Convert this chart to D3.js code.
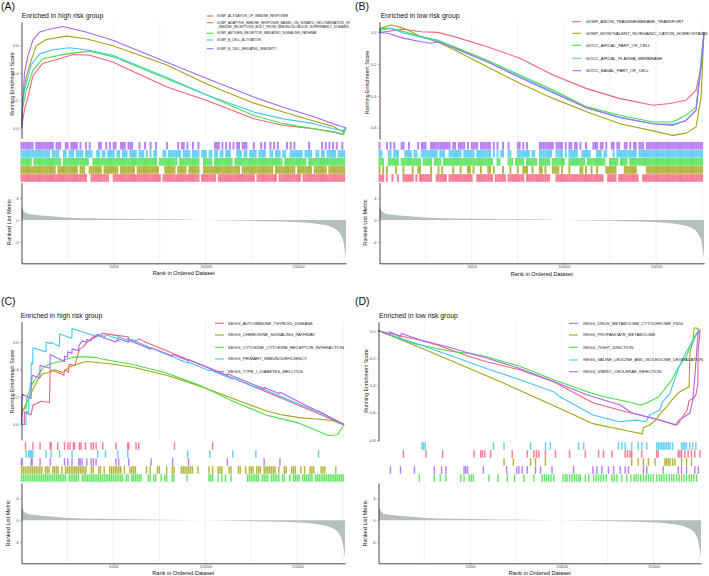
<!DOCTYPE html>
<html><head><meta charset="utf-8">
<script src="https://cdn.jsdelivr.net/npm/d3@7"></script>
<style>body{margin:0;background:#fff}svg{display:block;font-family:"Liberation Sans",Arial,Helvetica,sans-serif}</style>
</head><body>
<script>
// ---------------- DATA ----------------
const rankMax = 17600;
const HIT_UNIT = 100; // rug hit positions are given in hundreds of ranks
const gridRanks = [2500, 5000, 7500, 10000, 12500, 15000, 17500];
const xTicks = [5000, 10000, 15000];
const metricRanks  = [0, 100, 250, 600, 1500, 2400, 4200, 6000, 7900, 9800, 11500, 13300, 15100, 16000, 16900, 17300, 17470, 17600];
const metricValues = [2.6, 1.8, 1.3, 1.0, 0.73, 0.48, 0.3, 0.2, 0.12, 0.0, -0.1, -0.24, -0.4, -0.7, -1.4, -2.6, -4.1, -6.9];
const metricDomain = [-7.9, 6.85];
const metricTicks = [-4, 0, 4];
const setColors = ["#F5607D", "#A3A516", "#46DF46", "#44C6F3", "#AA66F2"];

const panelLetters = ["(A)", "(B)", "(C)", "(D)"];
const titles = ["Enriched in high risk group", "Enriched in low risk group", "Enriched in high risk group", "Enriched in low risk group"];

const legendA = ["GOBP_ACTIVATION_OF_IMMUNE_RESPONSE",
  "GOBP_ADAPTIVE_IMMUNE_RESPONSE_BASED_ON_SOMATIC_RECOMBINATION_OF\n_IMMUNE_RECEPTORS_BUILT_FROM_IMMUNOGLOBULIN_SUPERFAMILY_DOMAINS",
  "GOBP_ANTIGEN_RECEPTOR_MEDIATED_SIGNALING_PATHWAY", "GOBP_B_CELL_ACTIVATION", "GOBP_B_CELL_MEDIATED_IMMUNITY"];
const legendB = ["GOBP_ANION_TRANSMEMBRANE_TRANSPORT", "GOBP_MONOVALENT_INORGANIC_CATION_HOMEOSTASIS",
  "GOCC_APICAL_PART_OF_CELL", "GOCC_APICAL_PLASMA_MEMBRANE", "GOCC_BASAL_PART_OF_CELL"];
const legendC = ["KEGG_AUTOIMMUNE_THYROID_DISEASE", "KEGG_CHEMOKINE_SIGNALING_PATHWAY",
  "KEGG_CYTOKINE_CYTOKINE_RECEPTOR_INTERACTION", "KEGG_PRIMARY_IMMUNODEFICIENCY", "KEGG_TYPE_I_DIABETES_MELLITUS"];
const legendD = ["KEGG_DRUG_METABOLISM_CYTOCHROME_P450", "KEGG_PROPANOATE_METABOLISM",
  "KEGG_TIGHT_JUNCTION", "KEGG_VALINE_LEUCINE_AND_ISOLEUCINE_DEGRADATION", "KEGG_VIBRIO_CHOLERAE_INFECTION"];

const esTicksA = [0, 0.2, 0.4, 0.6];
const esTicksB = [-0.6, -0.4, -0.2, 0.0];
const esTicksC = [0, 0.2, 0.4, 0.6];
const esTicksD = [-0.8, -0.6, -0.4, -0.2, 0.0];
const esDomainA = [-0.077, 0.773];
const esDomainB = [-0.671, 0.067];
const esDomainC = [-0.113, 0.75];
const esDomainD = [-0.807, 0.066];

// running enrichment scores [rank, ES], series order = legend order
const esA = [
  [[0,0],[160,0.13],[340,0.22],[620,0.38],[1150,0.47],[2050,0.505],[2800,0.535],[3700,0.53],[4950,0.48],[7850,0.30],[10050,0.20],[12600,0.066],[14200,0.017],[15850,-0.007],[16900,-0.03],[17450,-0.045],[17600,0]],
  [[0,0],[70,0.20],[250,0.37],[520,0.49],[800,0.60],[1350,0.645],[2450,0.67],[3500,0.65],[4950,0.60],[7850,0.46],[10050,0.32],[12600,0.18],[14200,0.115],[15850,0.05],[16900,0.01],[17450,-0.03],[17600,0]],
  [[0,0],[70,0.15],[250,0.27],[620,0.42],[1150,0.505],[2450,0.54],[3700,0.56],[4950,0.52],[7850,0.36],[10050,0.24],[12600,0.09],[14200,0.03],[15850,-0.007],[16900,-0.03],[17450,-0.05],[17600,0]],
  [[0,0],[70,0.22],[250,0.32],[520,0.46],[980,0.54],[1700,0.57],[2600,0.585],[3500,0.57],[4950,0.53],[7850,0.37],[10050,0.24],[12600,0.115],[14200,0.065],[15850,0.03],[16900,-0.007],[17450,-0.02],[17600,0]],
  [[0,0],[160,0.40],[340,0.52],[620,0.64],[980,0.70],[1520,0.72],[2250,0.74],[3500,0.70],[4950,0.64],[7850,0.48],[10050,0.36],[12600,0.225],[14200,0.15],[15850,0.08],[16900,0.03],[17450,0.005],[17600,0]]
];
const esB = [
  [[0,0],[270,0.004],[1350,0.02],[2250,0.004],[3150,0],[4050,-0.027],[5840,-0.09],[7640,-0.164],[9440,-0.27],[11240,-0.354],[13040,-0.417],[14830,-0.459],[15730,-0.448],[16630,-0.427],[17170,-0.364],[17440,-0.217],[17600,0]],
  [[0,0],[50,0.025],[630,0.046],[1350,0.025],[2250,-0.027],[3150,-0.06],[4050,-0.11],[5840,-0.217],[7640,-0.322],[9440,-0.417],[11240,-0.50],[13040,-0.575],[14830,-0.62],[15910,-0.648],[16630,-0.634],[17170,-0.596],[17440,-0.406],[17600,0]],
  [[0,0],[50,0.025],[630,0.025],[1350,0.004],[2250,-0.027],[3150,-0.048],[4050,-0.09],[5840,-0.175],[7640,-0.27],[9440,-0.364],[11240,-0.469],[13040,-0.522],[14830,-0.564],[15910,-0.564],[16630,-0.522],[17170,-0.469],[17440,-0.217],[17600,0]],
  [[0,0],[50,0.015],[630,0.025],[1350,-0.006],[2250,-0.03],[3150,-0.053],[4050,-0.10],[5840,-0.185],[7640,-0.28],[9440,-0.375],[11240,-0.474],[13040,-0.533],[14830,-0.575],[15910,-0.579],[16630,-0.554],[17170,-0.49],[17440,-0.175],[17600,0]],
  [[0,0],[450,-0.006],[1350,-0.038],[2250,-0.059],[2790,-0.069],[3150,-0.059],[4050,-0.097],[5840,-0.185],[7640,-0.286],[9440,-0.381],[11240,-0.476],[13040,-0.537],[14830,-0.575],[15910,-0.585],[16630,-0.554],[17170,-0.49],[17440,-0.217],[17600,0]]
];
const esC = [
  [[0,0],[150,0],[160,0.09],[520,0.07],[620,0.14],[1070,0.17],[1520,0.16],[1560,0.40],[2000,0.38],[2300,0.36],[2350,0.40],[2550,0.38],[2600,0.44],[2900,0.43],[3150,0.55],[3400,0.57],[3550,0.60],[3800,0.62],[4050,0.64],[4450,0.665],[5150,0.65],[5800,0.64],[5850,0.62],[6250,0.61],[6400,0.625],[6600,0.61],[14000,0.20],[17550,0]],
  [[0,0.05],[70,0.10],[250,0.15],[600,0.25],[900,0.33],[1150,0.37],[1500,0.38],[1800,0.40],[2250,0.38],[2600,0.42],[3000,0.44],[3500,0.46],[4250,0.45],[5000,0.44],[6000,0.42],[7900,0.36],[9700,0.28],[11500,0.19],[13300,0.10],[14200,0.07],[15100,0.05],[16000,0.04],[16900,0.03],[17470,0]],
  [[0,0.10],[250,0.12],[300,0.20],[600,0.30],[1000,0.38],[1200,0.42],[1500,0.44],[2100,0.46],[2500,0.48],[3000,0.495],[4000,0.49],[4300,0.48],[6000,0.44],[7800,0.38],[9800,0.28],[11500,0.17],[13300,0.07],[15100,0.01],[16700,-0.08],[17200,-0.075],[17550,0]],
  [[0,0],[240,0],[250,0.10],[390,0.08],[400,0.20],[460,0.20],[470,0.30],[520,0.30],[530,0.45],[610,0.44],[620,0.56],[1330,0.53],[1340,0.60],[1600,0.59],[1610,0.60],[2060,0.57],[2070,0.66],[2740,0.63],[2750,0.70],[4140,0.64],[4150,0.66],[4560,0.64],[4570,0.655],[5230,0.625],[5240,0.64],[5770,0.615],[5780,0.63],[9030,0.448],[9040,0.458],[10240,0.39],[10250,0.40],[11480,0.331],[11490,0.341],[12740,0.27],[12750,0.28],[16150,0.089],[16160,0.099],[17550,0]],
  [[0,0],[10,0.12],[40,0.22],[520,0.19],[530,0.28],[580,0.36],[1000,0.34],[1010,0.43],[1550,0.41],[1560,0.51],[2330,0.46],[2340,0.50],[2510,0.49],[2520,0.53],[2740,0.52],[2750,0.55],[3110,0.54],[3120,0.57],[3190,0.59],[3300,0.61],[3540,0.60],[3550,0.62],[3780,0.61],[3790,0.63],[3900,0.63],[3910,0.645],[4050,0.64],[4060,0.655],[5130,0.60],[5140,0.615],[5280,0.61],[5290,0.625],[5820,0.60],[5830,0.615],[7040,0.55],[7050,0.56],[8210,0.50],[8220,0.51],[9080,0.465],[9090,0.475],[11190,0.36],[11200,0.37],[13190,0.26],[13200,0.27],[14050,0.225],[14060,0.235],[17550,0]]
];
const esD = [
  [[0,0],[1400,-0.044],[2300,-0.07],[3200,-0.105],[5000,-0.19],[5900,-0.227],[7750,-0.288],[9550,-0.373],[11700,-0.527],[13500,-0.593],[15000,-0.64],[16300,-0.69],[16600,-0.63],[16850,-0.58],[16950,-0.51],[17150,-0.50],[17320,-0.47],[17420,-0.40],[17450,-0.14],[17550,0]],
  [[0,0],[2300,-0.124],[6850,-0.385],[9600,-0.55],[11700,-0.68],[13500,-0.73],[14400,-0.755],[14450,-0.71],[14800,-0.69],[15150,-0.65],[15350,-0.61],[15700,-0.56],[16050,-0.50],[16400,-0.45],[16950,-0.41],[17000,-0.154],[17180,-0.07],[17220,0.02],[17360,0.02],[17550,0]],
  [[0,0],[1900,-0.093],[3200,-0.13],[4100,-0.154],[5000,-0.166],[5900,-0.19],[7700,-0.26],[9600,-0.36],[11400,-0.446],[12200,-0.48],[13600,-0.52],[14300,-0.544],[14600,-0.53],[15300,-0.483],[16000,-0.36],[16400,-0.26],[16800,-0.19],[17100,-0.08],[17300,-0.03],[17500,0]],
  [[0,0],[2300,-0.105],[4100,-0.19],[5900,-0.276],[7750,-0.36],[9550,-0.446],[9900,-0.483],[11700,-0.617],[13150,-0.666],[14050,-0.654],[14600,-0.666],[14800,-0.617],[15350,-0.58],[15500,-0.52],[15900,-0.46],[16050,-0.40],[16450,-0.25],[16800,-0.154],[17150,-0.08],[17350,-0.03],[17550,0]],
  [[0,0],[600,-0.03],[620,-0.007],[1200,-0.044],[1250,-0.02],[2300,-0.068],[4100,-0.13],[5000,-0.166],[5900,-0.20],[7700,-0.276],[9600,-0.373],[11400,-0.47],[13200,-0.544],[13800,-0.60],[15300,-0.654],[16200,-0.69],[16400,-0.654],[16700,-0.63],[17000,-0.60],[17150,-0.51],[17250,-0.36],[17450,0]]
];

// gene-set hit positions (hundreds of ranks), series order = legend order
const hitsA = [
  [0,1,2,3,4,5,6,7,8,9,10,11,12,13,14,15,16,17,18,19,20,21,22,23,24,25,26,27,28,29,30,31,32,33,34,35,38,39,40,41,42,43,44,45,46,47,50,51,52,53,54,55,56,57,58,59,60,61,62,63,64,65,66,67,68,69,70,71,72,73,74,75,77,78,79,80,81,82,83,84,85,86,87,88,89,90,91,92,93,94,95,96,98,99,100,101,102,103,104,105,107,108,109,110,111,112,113,114,115,116,117,118,119,120,121,122,123,124,125,126,128,129,130,131,132,133,134,135,136,137,138,140,141,142,143,144,145,146,147,148,149,150,151,153,154,155,156,157,158,159,160,161,162,163,164,165,166,167,168,169,170,171,172,173,174,175],
  [0,1,2,3,4,5,6,7,8,9,10,11,12,13,14,15,16,17,18,20,21,22,23,24,25,26,27,28,29,30,32,33,34,37,38,39,40,41,42,43,45,46,47,48,49,50,51,52,54,55,56,57,58,59,60,61,63,64,65,66,67,68,69,70,71,72,73,74,78,79,80,81,82,83,85,86,87,88,89,91,92,93,94,95,96,99,100,101,102,103,104,105,106,107,108,109,110,111,112,113,114,115,116,117,118,120,121,122,123,124,125,126,127,128,129,130,131,132,133,134,135,136,138,139,140,141,142,143,144,145,146,147,148,150,151,152,153,154,155,156,157,159,160,161,162,163,164,165,167,168,169,170,171,172,173,174,175],
  [0,1,2,3,4,5,7,8,9,10,11,12,13,14,15,16,17,18,19,20,21,23,24,25,26,27,28,29,30,31,32,33,34,35,36,39,40,41,42,43,44,45,46,47,48,49,50,51,52,53,54,55,56,57,58,59,60,61,62,63,64,65,66,67,68,69,70,71,72,73,75,76,77,78,79,80,81,82,83,84,86,87,88,89,90,91,92,93,94,95,96,99,100,101,102,103,105,106,107,108,109,110,111,112,113,114,116,117,118,119,120,121,122,123,124,125,126,127,128,129,130,131,132,133,134,135,136,137,138,139,140,141,143,144,145,146,147,148,149,150,151,152,153,154,156,157,158,159,160,161,162,163,164,165,166,167,168,169,170,171,172,173,174,175],
  [0,1,2,3,4,5,6,7,8,9,10,11,12,13,14,15,17,18,19,20,23,24,26,27,28,30,31,32,33,35,36,37,38,41,42,44,45,47,48,49,50,52,53,55,56,57,59,60,61,62,64,65,66,68,70,72,73,77,78,80,81,82,83,84,85,86,88,89,90,91,93,94,95,96,98,99,100,102,103,105,106,108,109,111,112,113,117,118,119,121,122,124,125,126,127,129,130,131,132,135,136,138,139,140,142,143,146,147,148,149,150,151,152,154,155,156,157,160,161,163,164,166,167,168,169,170,172,173,174,175],
  [0,1,2,3,4,5,6,8,9,10,11,12,13,14,15,16,17,19,20,21,24,25,27,28,29,30,32,35,37,42,43,46,48,50,51,54,55,56,58,59,60,64,67,70,73,79,85,87,88,90,93,96,105,106,107,109,111,113,115,117,118,120,121,122,126,130,132,135,137,139,144,146,148,156,163,165,167,169,171,174]
];
const hitsB = [
  [0,1,2,4,7,10,13,14,15,16,17,18,20,22,23,24,25,26,27,28,31,32,33,34,35,36,38,39,40,41,42,43,44,45,46,47,48,49,50,53,54,55,56,57,58,59,60,61,63,64,65,66,67,68,70,71,72,73,74,75,76,77,78,80,81,82,83,84,85,86,87,88,89,90,91,92,96,97,98,99,100,101,102,103,104,105,106,107,108,109,110,111,112,113,114,115,116,117,118,119,120,121,124,125,126,127,128,130,131,132,133,134,135,136,137,138,139,140,143,144,145,146,147,148,149,150,151,152,153,154,155,156,157,158,159,160,161,162,163,164,165,166,167,168,169,170,171,172,173,174,175],
  [0,2,4,9,13,18,21,22,28,32,34,40,44,48,49,51,55,59,60,62,67,71,75,78,79,80,83,87,88,90,94,95,96,97,99,103,109,110,112,115,118,123,124,125,126,127,128,133,134,135,136,137,138,139,145,146,147,148,149,150,151,152,153,154,155,156,157,158,159,160,161,162,163,164,165,166,167,168,169,170,171,172,173,174,175],
  [0,1,2,5,6,7,8,9,10,12,13,14,15,16,17,18,19,20,21,22,24,25,26,27,28,30,31,32,33,35,36,37,38,39,40,41,42,43,44,45,46,47,48,49,50,51,52,53,54,55,56,57,58,59,60,61,64,65,70,71,72,74,75,76,77,78,80,81,82,83,84,85,87,88,89,90,91,92,94,95,96,97,98,99,100,103,104,105,106,107,108,109,110,111,113,114,115,116,117,118,119,120,121,122,125,126,127,128,129,131,132,133,134,136,137,138,139,140,141,142,143,144,145,146,147,148,149,150,151,152,153,154,155,156,157,158,159,160,161,162,163,164,165,166,167,168,169,170,171,172,173,174,175],
  [0,1,5,6,8,9,10,14,15,16,17,19,20,23,24,25,26,27,28,29,30,31,33,34,35,38,39,40,41,42,43,44,46,47,48,49,50,51,53,54,55,56,57,58,59,60,62,64,66,67,70,71,75,76,77,78,79,80,81,83,84,87,88,89,90,91,92,93,96,97,98,99,101,103,104,105,106,107,110,111,112,113,114,118,119,120,122,123,127,129,130,131,132,133,134,135,136,137,138,139,141,142,143,144,145,146,147,148,149,150,151,152,153,154,155,156,157,158,159,160,161,162,163,164,165,166,167,168,169,170,171,172,173,174,175],
  [0,4,6,8,12,13,16,21,23,24,25,28,29,30,31,32,33,34,35,36,37,38,40,41,43,44,45,46,48,50,51,52,53,55,56,57,58,59,60,62,64,67,70,75,76,78,80,87,88,89,90,91,92,93,94,96,97,98,99,101,103,104,106,107,109,112,116,117,118,120,121,123,126,127,129,130,133,134,136,138,139,141,142,143,145,146,147,148,149,150,151,152,153,154,155,156,157,158,159,160,161,162,163,164,165,166,167,168,169,170,171,172,173,174,175]
];
const hitsC = [
  [2.2,6.2,10.1,15.6,16.1,19.7,23.4,25.2,26.4,28.3,28.8,31.5,32.4,34.8,37.9,39.1,40.6,44.2,51.4,57.8,58.3,62.3,63.8,83.2,104],
  [0,1,2,3,4,5,6,7,8,9,10,11,13,14,15,17,18,19,20,22,24,25,26,27,28,29,30,31,32,33,34,35,38,39,42,43,45,48,49,50,51,52,53,54,56,59,60,61,62,68,70,74,75,79,82,83,87,88,89,90,91,92,93,96,102,104,107,108,109,113,114,118,119,122,124,125,126,128,129,130,132,133,134,135,136,137,138,140,143,144,147,148,149,152,154,157,158,159,163,164,165,171],
  [0,1,2,3,4,5,6,7,8,9,10,11,12,13,14,15,16,17,18,19,20,21,22,23,24,26,27,28,29,30,31,33,34,35,36,37,38,39,40,41,42,43,44,45,46,47,48,49,50,51,52,53,54,55,57,58,60,61,62,63,64,65,69,70,72,73,76,78,79,82,83,90,102,103,104,107,109,111,114,123,124,125,126,127,128,129,131,132,133,134,136,137,138,139,140,142,143,146,148,149,150,151,153,154,155,156,157,158,160,161,162,163,164,165,166,167,168,169,170,171,172,173,174,175],
  [2.5,4.0,4.7,5.3,6.2,13.4,16.1,20.7,27.5,41.5,45.7,52.4,57.8,90.4,102.5,114.9,127.5,161.6],
  [0,0.4,5.3,5.8,10.1,15.6,23.4,25.2,27.5,31.2,31.9,33,35.5,37.9,39.1,40.6,51.4,52.9,58.3,70.5,82.2,90.9,112,132,140.6]
];
const hitsD = [
  [13.6,25.9,35,52.2,55.8,56.7,58,61.2,73,81.2,84.8,86.2,87.5,91.1,96.6,104.3,112.9,120.1,122.8,127.4,134.6,135.9,137.3,138.2,143.7,151.8,152.7,163.6,164.5,165.4,167.2,169,170.8,172.6,175.4],
  [68.5,73.6,83,85.7,91.1,138.2,141.8,144.6,147.3,150.9,156.3,157.2,158.2,159.1,160.5,161.8,165.4,168.1,170.8],
  [22.3,30.4,33.7,36.8,44.9,46.7,49.5,50.7,51.8,60.3,65.2,70.3,74.3,79.3,84.8,89.3,90.6,91.7,92.9,94.2,95.7,100.7,102,102.9,104.3,105.6,106.9,108,109.2,110.1,112.9,114.7,117.4,118.8,120.1,121.4,122.8,124.3,127.4,128.6,130.1,132.8,135.5,137.7,139.5,140.6,141.8,143.1,144.6,146,147.3,148.6,150,151.8,153.3,154.5,155.8,157.2,158.7,160,161.2,162.7,164.1,165.4,166.7,168.1,169.6,170.8,172.1,173.6],
  [23.7,24.6,25.5,62.7,68.5,83,91.1,93.8,109.2,112,131,132.8,134.6,138.2,141.8,143.7,146.4,151.8,152.7,153.6,154.5,155.4,156.3,157.2,158.2,159.1,160.5,165.4,166.3,167.2,168.1,169.9,171.4,173.2],
  [6.5,12,19.6,30.4,34.4,36.8,46.7,47.6,48.6,57.2,69.9,75.4,76.6,78.4,81.2,85.7,88.4,94.7,106.5,117,119.2,121.9,125.5,128.3,131.9,134.6,136.4,144.6,146.4,155.4,163.6,165.4,168.1,172.6,174.5]
];
// rug row order, top to bottom (indices into series)
const rugOrderA = [4, 3, 2, 1, 0];
const rugOrderB = [4, 3, 2, 1, 0];
const rugOrderC = [0, 3, 4, 1, 2];
const rugOrderD = [3, 0, 1, 4, 2];

// ---------------- LAYOUT ----------------
const W = 709, H = 576;
const layouts = [
  {x0:21.5,x1:346,esTop:22,esBottom:138.3,rugTop:141.7,rugBottom:182,mTop:182.5,mBottom:263.3,rugW:1.95,
   letterX:1,letterY:10,titleX:21.7,titleY:17.5,esTitleX:13.8,esTitleY:84,mTitleX:10.7,mTitleY:222,xTitleY:275,
   legKeyX:[206.7,213.3],legTextX:216.7,legY:[16,22.7,33.3,40,48.7],legFont:3.25},
  {x0:379.5,x1:704,esTop:21.7,esBottom:139,rugTop:141.7,rugBottom:182,mTop:182.5,mBottom:263.3,rugW:1.95,
   letterX:355,letterY:10,titleX:380.7,titleY:18,esTitleX:369,esTitleY:82.5,mTitleX:366.7,mTitleY:222.5,xTitleY:275.5,
   legKeyX:[572.3,581],legTextX:585.7,legY:[21.7,33.3,45.3,58.3,70.7],legFont:4.25},
  {x0:21.5,x1:345,esTop:321.7,esBottom:440,rugTop:442,rugBottom:482,mTop:483,mBottom:563.3,rugW:1.45,
   letterX:1,letterY:305,titleX:20.7,titleY:317.7,esTitleX:14,esTitleY:381.5,mTitleX:10,mTitleY:523.3,xTitleY:575.3,
   legKeyX:[215,224],legTextX:228.3,legY:[323.3,335,347.3,359,371.7],legFont:4.2},
  {x0:378.5,x1:701,esTop:321.7,esBottom:441,rugTop:442,rugBottom:482,mTop:483,mBottom:563.3,rugW:1.45,
   letterX:355,letterY:305,titleX:379,titleY:318.3,esTitleX:368,esTitleY:381,mTitleX:366.7,mTitleY:523.3,xTitleY:575.3,
   legKeyX:[569,578],legTextX:583.3,legY:[323.3,335,347.3,360,371.7],legFont:4.15}
];
const esSeries = [esA, esB, esC, esD];
const hitSeries = [hitsA, hitsB, hitsC, hitsD];
const rugOrders = [rugOrderA, rugOrderB, rugOrderC, rugOrderD];
const esDomains = [esDomainA, esDomainB, esDomainC, esDomainD];
const esTicks = [esTicksA, esTicksB, esTicksC, esTicksD];
const legends = [legendA, legendB, legendC, legendD];

const FONT = '"Liberation Sans",Arial,Helvetica,sans-serif';
const svg = d3.select("body").append("svg").attr("width", W).attr("height", H)
  .attr("viewBox", `0 0 ${W} ${H}`);
svg.append("rect").attr("width", W).attr("height", H).attr("fill", "#fff");

function styleAxis(a) {
  a.attr("font-family", FONT).attr("font-size", 4);
  a.select(".domain").attr("stroke", "#1a1a1a").attr("stroke-width", 0.8);
  a.selectAll(".tick line").attr("stroke", "#555").attr("stroke-width", 0.5);
  a.selectAll(".tick text").attr("fill", "#4d4d4d");
}

function drawPanel(i) {
  const L = layouts[i];
  const g = svg.append("g");
  const x = d3.scaleLinear().domain([0, rankMax]).range([L.x0, L.x1]);
  const yE = d3.scaleLinear().domain(esDomains[i]).range([L.esBottom, L.esTop]);
  const yM = d3.scaleLinear().domain(metricDomain).range([L.mBottom, L.mTop]);

  // grid lines
  [[L.esTop, L.esBottom], [L.mTop, L.mBottom]].forEach(([t, b]) => {
    g.append("g").selectAll("line").data(gridRanks).join("line")
      .attr("x1", d => x(d)).attr("x2", d => x(d)).attr("y1", t).attr("y2", b)
      .attr("stroke", "#e2e8eb").attr("stroke-width", 0.6);
  });

  // running ES lines
  const line = d3.line().x(d => x(d[0])).y(d => yE(d[1]));
  g.append("g").selectAll("path").data(esSeries[i]).join("path")
    .attr("d", line).attr("fill", "none")
    .attr("stroke", (d, k) => setColors[k]).attr("stroke-width", 1.1)
    .attr("stroke-linejoin", "round");

  const axE = g.append("g").attr("transform", `translate(${L.x0},0)`)
    .call(d3.axisLeft(yE).tickValues(esTicks[i]).tickFormat(d => d.toFixed(1))
      .tickSize(1.5).tickSizeOuter(0).tickPadding(1.5));
  styleAxis(axE);

  // rug
  const order = rugOrders[i];
  const rowH = (L.rugBottom - L.rugTop) / order.length;
  order.forEach((si, row) => {
    const y0 = L.rugTop + row * rowH;
    g.append("g").selectAll("line").data(hitSeries[i][si]).join("line")
      .attr("x1", d => x(d * HIT_UNIT)).attr("x2", d => x(d * HIT_UNIT))
      .attr("y1", y0 + 0.2).attr("y2", y0 + rowH - 0.2)
      .attr("stroke", setColors[si]).attr("stroke-width", L.rugW).attr("stroke-opacity", 0.82);
  });

  // ranked list metric
  const pts = metricRanks.map((r, k) => [r, metricValues[k]]);
  const area = d3.area().x(d => x(d[0])).y0(yM(0)).y1(d => yM(d[1])).curve(d3.curveMonotoneX);
  g.append("path").datum(pts).attr("d", area).attr("fill", "#b5bfc0");

  const axM = g.append("g").attr("transform", `translate(${L.x0},0)`)
    .call(d3.axisLeft(yM).tickValues(metricTicks).tickFormat(d => String(d))
      .tickSize(1.5).tickSizeOuter(0).tickPadding(1.5));
  styleAxis(axM);
  const axX = g.append("g").attr("transform", `translate(0,${L.mBottom})`)
    .call(d3.axisBottom(x).tickValues(xTicks).tickFormat(d => String(d))
      .tickSize(1.5).tickSizeOuter(0).tickPadding(0.6));
  styleAxis(axX);
  axX.attr("font-size", 4.3);

  // axis titles
  g.append("text").attr("transform", `translate(${L.esTitleX},${L.esTitleY}) rotate(-90)`)
    .attr("text-anchor", "middle").attr("font-size", 5.3).attr("font-family", FONT).attr("fill", "#111")
    .text("Running Enrichment Score");
  g.append("text").attr("transform", `translate(${L.mTitleX},${L.mTitleY}) rotate(-90)`)
    .attr("text-anchor", "middle").attr("font-size", 5.6).attr("font-family", FONT).attr("fill", "#111")
    .text("Ranked List Metric");
  g.append("text").attr("x", (L.x0 + L.x1) / 2).attr("y", L.xTitleY)
    .attr("text-anchor", "middle").attr("font-size", 5.6).attr("font-family", FONT).attr("fill", "#111")
    .text("Rank in Ordered Dataset");

  // panel letter and title
  g.append("text").attr("x", L.letterX).attr("y", L.letterY)
    .attr("font-size", 10.5).attr("font-family", FONT).attr("fill", "#111").text(panelLetters[i]);
  g.append("text").attr("x", L.titleX).attr("y", L.titleY)
    .attr("font-size", 6.9).attr("font-family", FONT).attr("fill", "#111").text(titles[i]);

  // legend
  const lg = g.append("g");
  legends[i].forEach((lab, k) => {
    const yy = L.legY[k];
    lg.append("line").attr("x1", L.legKeyX[0]).attr("x2", L.legKeyX[1])
      .attr("y1", yy).attr("y2", yy).attr("stroke", setColors[k]).attr("stroke-width", 1.1);
    const t = lg.append("text").attr("x", L.legTextX).attr("y", yy)
      .attr("font-size", L.legFont).attr("font-family", FONT).attr("fill", "#1a1a1a");
    lab.split("\n").forEach((s, j) => {
      t.append("tspan").attr("x", L.legTextX).attr("dy", j === 0 ? "0.35em" : "1.3em").text(s);
    });
  });
}

[0, 1, 2, 3].forEach(drawPanel);
</script>
</body></html>
